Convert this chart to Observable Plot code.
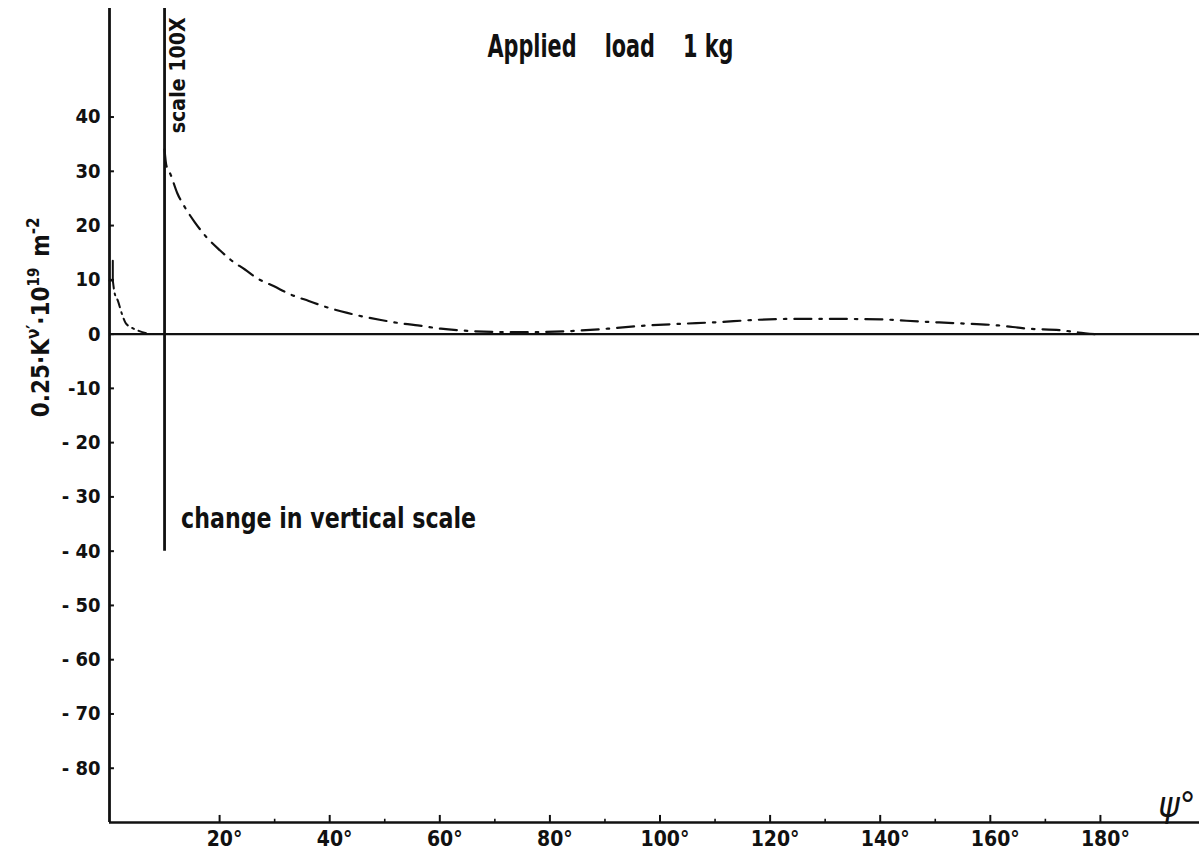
<!DOCTYPE html>
<html><head><meta charset="utf-8">
<script src="https://cdn.jsdelivr.net/npm/d3@7"></script>
<script src="https://cdn.jsdelivr.net/npm/@observablehq/plot@0.6"></script>
<style>
html,body{margin:0;padding:0;background:#fff;}
#chart svg{display:block;}
</style></head><body><div id="chart"></div>
<script>
const FONT = '"Liberation Sans Narrow","DejaVu Sans Condensed","Roboto Condensed","Noto Sans",sans-serif';

// ---- data ----
// near-origin part, true vertical scale
const nearX = [0.6, 0.9, 1.5, 2.3, 2.9, 4.0, 5.3, 6.5, 8.0];
const nearY = [9.9, 7.7, 6.2, 3.6, 2.1, 1.2, 0.6, 0.2, 0.0];
const bracketX = [0, 0.6, 0.6];
const bracketY = [9.9, 9.9, 13.5];
// part beyond the scale change, plotted at 100X
const farX = [10.0, 10.3, 11.1, 12.3, 13.8, 15.5, 17.5, 20.1, 22.0, 24.6, 26.8, 29.9, 32.9, 36.2, 39.3, 43.2, 46.2, 49.3, 53.5, 56.0, 60.2, 65.0, 70.0, 76.0, 82.5, 90.5, 97.8, 103.8, 110.5, 117.0, 124.4, 131.7, 140.2, 147.5, 154.0, 161.4, 166.9, 172.9, 176.0, 179.0];
const farY = [34.0, 31.2, 29.4, 26.0, 23.2, 20.6, 18.0, 15.4, 13.7, 11.9, 10.3, 8.8, 7.3, 6.1, 5.0, 3.9, 3.2, 2.6, 1.9, 1.6, 1.0, 0.6, 0.4, 0.35, 0.5, 1.0, 1.6, 1.9, 2.2, 2.6, 2.8, 2.8, 2.7, 2.3, 2.0, 1.6, 1.0, 0.7, 0.3, 0.0];

const yTicks = [40, 30, 20, 10, 0, -10, -20, -30, -40, -50, -60, -70, -80];
const xMajor = [20, 40, 60, 80, 100, 120, 140, 160, 180];
const xMinor = [30, 50, 70, 90, 110, 130, 150, 170];
const xDomain = [0, 198];
const yDomain = [-90, 60];
const scaleBreakX = [10];
const scaleBreakY = [-40, 60];

const titleText = ["Applied\u2003 load\u2003 1 kg"];
const titlePos = [91, 53];
const breakNote = ["change in vertical scale"];
const breakNotePos = [13, -34];
const scaleNote = ["scale 100X"];
const scaleNotePos = [10, 37.0];
const xAxisSymbol = ["\u03C8\u00B0"];
const xAxisSymbolPos = [190.5, -90];

const near = nearX.map((x, i) => ({x, y: nearY[i]}));
const bracket = bracketX.map((x, i) => ({x, y: bracketY[i]}));
const far = farX.map((x, i) => ({x, y: farY[i]}));
const yFmt = d => d < -10 ? "- " + (-d) : String(d);

const plot = Plot.plot({
  width: 1199,
  height: 855,
  marginLeft: 109,
  marginRight: 0,
  marginTop: 8,
  marginBottom: 33,
  style: {fontFamily: FONT, background: "#fff", color: "#111"},
  x: {domain: xDomain, axis: null},
  y: {domain: yDomain, axis: null},
  marks: [
    // axes
    Plot.ruleX([xDomain[0]], {y1: yDomain[0], y2: yDomain[1], stroke: "#111", strokeWidth: 2.8}),
    Plot.ruleY([yDomain[0]], {x1: xDomain[0], x2: xDomain[1], stroke: "#111", strokeWidth: 2.4}),
    Plot.ruleY([0], {x1: xDomain[0], x2: xDomain[1], stroke: "#111", strokeWidth: 2.2}),
    // inward ticks
    Plot.ruleY(yTicks, {x1: xDomain[0], x2: xDomain[0] + 0.9, stroke: "#111", strokeWidth: 2}),
    Plot.ruleX(xMajor, {y1: yDomain[0], y2: yDomain[0] + 1.3, stroke: "#111", strokeWidth: 2}),
    Plot.ruleX(xMinor, {y1: yDomain[0], y2: yDomain[0] + 0.6, stroke: "#111", strokeWidth: 1.6}),
    // tick labels
    Plot.text(yTicks, {x: xDomain[0], y: d => d, text: yFmt, textAnchor: "end", dx: -9, fontSize: 20, fontWeight: "bold", fill: "#111"}),
    Plot.text(xMajor, {x: d => d, y: yDomain[0], text: d => d + "\u00B0", lineAnchor: "top", dy: 9, dx: 5, fontSize: 21, fontWeight: "bold", fill: "#111"}),
    // scale change line
    Plot.ruleX(scaleBreakX, {y1: scaleBreakY[0], y2: scaleBreakY[1], stroke: "#111", strokeWidth: 2.8}),
    // curves
    Plot.line(bracket, {x: "x", y: "y", stroke: "#111", strokeWidth: 2}),
    Plot.line(near, {x: "x", y: "y", stroke: "#111", strokeWidth: 2, curve: "monotone-x", strokeDasharray: "8,5,2,5"}),
    Plot.line(far, {x: "x", y: "y", stroke: "#111", strokeWidth: 2.2, curve: "monotone-x", strokeDasharray: "17,8,2.5,8"}),
    // annotations
    Plot.text(titleText, {ariaDescription: "title", x: () => titlePos[0], y: () => titlePos[1], text: d => d, fontSize: 32, fontWeight: "bold", fill: "#111"}),
    Plot.text(breakNote, {ariaDescription: "break-note", x: () => breakNotePos[0], y: () => breakNotePos[1], text: d => d, textAnchor: "start", fontSize: 28, fill: "#111", fontWeight: 600}),
    Plot.text(scaleNote, {ariaDescription: "scale-note", x: () => scaleNotePos[0], y: () => scaleNotePos[1], text: d => d, rotate: -90, textAnchor: "start", lineAnchor: "top", dx: 5, fontSize: 22, fill: "#111", fontWeight: 600}),
    Plot.text(xAxisSymbol, {x: () => xAxisSymbolPos[0], y: () => xAxisSymbolPos[1], text: d => d, textAnchor: "start", lineAnchor: "bottom", dy: -6, fontSize: 36, fontStyle: "italic", fill: "#111"})
  ]
});

const svg = d3.select(plot);
// condense the hand-lettered annotations to their original widths
const condense = (label, len) => svg.selectAll(`g[aria-description="${label}"] text`)
  .attr("textLength", len).attr("lengthAdjust", "spacingAndGlyphs");
condense("title", 246);
condense("break-note", 295);
condense("scale-note", 116);

// y-axis title with superscripts
const xs = plot.scale("x"), ys = plot.scale("y");
const lx = xs.apply(xDomain[0]) - 60, ly = ys.apply(3);
const t = svg.append("text")
  .attr("transform", `translate(${lx},${ly}) rotate(-90)`)
  .attr("text-anchor", "middle")
  .attr("font-family", FONT)
  .attr("font-size", 24)
  .attr("font-weight", 600)
  .attr("fill", "#111");
t.append("tspan").text("0.25\u00B7K");
t.append("tspan").attr("dy", -10).attr("font-size", 17).text("\u03BD\u2032");
t.append("tspan").attr("dy", 10).text("\u00B710");
t.append("tspan").attr("dy", -10).attr("font-size", 15).text("19");
t.append("tspan").attr("dy", 10).text("\u2002m");
t.append("tspan").attr("dy", -10).attr("font-size", 17).text("-2");

document.getElementById("chart").appendChild(plot);
</script>
</body></html>
